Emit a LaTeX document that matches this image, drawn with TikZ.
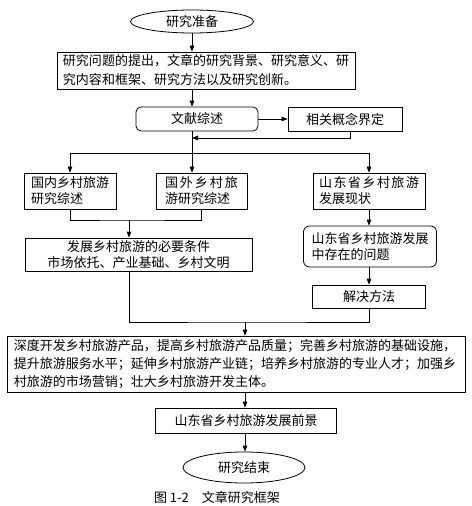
\documentclass[tikz,border=0pt]{standalone}
\usepackage{fontspec}
\setmainfont{Noto Sans CJK SC}
\usetikzlibrary{arrows.meta,shapes.geometric}

\newcommand{\spreadline}[2]{\makebox[#1][s]{#2}}

\begin{document}
\begin{tikzpicture}[x=1bp, y=-1bp, line width=0.8bp,
    font=\fontsize{13bp}{16bp}\selectfont,
    box/.style={draw, inner sep=0pt, align=center},
    leftbox/.style={draw, inner xsep=7bp, inner ysep=0pt, align=left},
    oval/.style={draw, ellipse, inner sep=0pt},
    arr/.style={-{Triangle[length=6bp,width=4.5bp]}}]
    \useasboundingbox (0,0) rectangle (472,506);

    % Preparation
    \node[oval, minimum width=123bp, minimum height=23bp] (start) at (192,21.5) {研究准备};
    \node[leftbox, inner xsep=6bp, text width=286bp, minimum height=37bp,
          font=\fontsize{13bp}{19bp}\selectfont] (intro) at (206,70.5)
          {研究问题的提出，文章的研究背景、研究意义、研\\究内容和框架、研究方法以及研究创新。};

    % Literature review
    \node[box, rounded corners=5bp, minimum width=122bp, minimum height=24bp] (review) at (197,119) {文献综述};
    \node[box, minimum width=114bp, minimum height=24bp] (concept) at (345,119) {相关概念界定};

    % Three branches
    \node[leftbox, text width=78bp, minimum height=36bp] (domestic) at (70,191) {国内乡村旅游\\研究综述};
    \node[leftbox, inner xsep=9bp, text width=73bp, minimum height=36bp] (foreign) at (201.5,191)
          {\spreadline{73bp}{国\hfill 外\hfill 乡\hfill 村\hfill 旅}\\游研究综述};
    \node[leftbox, inner xsep=6bp, text width=100bp, minimum height=36bp] (status) at (369,191)
          {\spreadline{100bp}{山\hfill 东\hfill 省\hfill 乡\hfill 村\hfill 旅\hfill 游}\\发展现状};
    \node[box, minimum width=227bp, minimum height=33bp] (cond) at (138.5,254.5)
          {发展乡村旅游的必要条件\\市场依托、产业基础、乡村文明};
    \node[leftbox, rounded corners=6bp, inner xsep=8bp, text width=117bp, minimum height=41bp] (problem) at (370,246.5)
          {山东省乡村旅游发展\\中存在的问题};
    \node[box, minimum width=113bp, minimum height=23bp] (solution) at (369,296.5) {解决方法};

    % Measures and end
    \node[leftbox, text width=444bp, minimum height=56bp,
          font=\fontsize{13bp}{18bp}\selectfont] (measures) at (236,364)
          {深度开发乡村旅游产品，提高乡村旅游产品质量；完善乡村旅游的基础设施，\\提升旅游服务水平；延伸乡村旅游产业链；培养乡村旅游的专业人才；加强乡\\村旅游的市场营销；壮大乡村旅游开发主体。};
    \node[box, minimum width=181bp, minimum height=25bp] (prospect) at (246,420.5) {山东省乡村旅游发展前景};
    \node[oval, minimum width=122bp, minimum height=31bp] (finish) at (244,467.5) {研究结束};
    \node (caption) at (217,497) {图 1-2\hspace{1em}文章研究框架};

    % Junction points
    \coordinate (merge) at (192,138);
    \coordinate (split) at (192,153);
    \coordinate (join) at (129,220);
    \coordinate (meet) at (245,322);

    % Connectors
    \draw[arr] (start) -- (intro.north -| start);
    \draw[arr] (intro.south -| start) -- (review.north -| start);
    \draw[arr] (review) -- (concept);
    \draw[arr] ([xshift=5bp]concept.south) |- (merge);
    \draw (review.south -| start) -- (split);
    \draw (split -| domestic) -- (split -| status);
    \foreach \n in {domestic, status} {
        \draw[arr] (split -| \n) -- (\n.north);
    }
    \draw[arr] (split) -- (split |- foreign.north);
    \draw (domestic.south) |- (join) -| (foreign.south);
    \draw[arr] (join) -- (join |- cond.north);
    \draw[arr] (status.south) -- (status.south |- problem.north);
    \draw[arr] (problem.south -| status) -- (solution.north -| status);
    \draw (join |- cond.south) |- (meet) -| (solution.south);
    \draw[arr] (meet) -- (meet |- measures.north);
    \draw[arr] (measures.south -| meet) -- (prospect.north -| meet);
    \draw[arr] (prospect.south -| meet) -- (finish.north -| meet);
\end{tikzpicture}
\end{document}
